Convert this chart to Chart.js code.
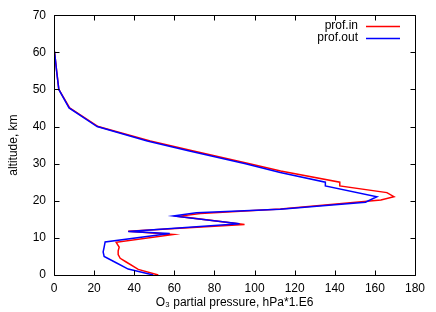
<!DOCTYPE html>
<html>
<head>
<meta charset="utf-8">
<script src="https://cdn.jsdelivr.net/npm/chart.js@4.4.0/dist/chart.umd.min.js"></script>
<style>
  html, body { margin: 0; padding: 0; background: #fff; }
  #wrap { width: 436px; height: 312px; position: relative; }
</style>
</head>
<body>
<div id="wrap"><canvas id="c" width="436" height="312"></canvas></div>
<script>
// prof.in (red): altitude (km) and O3 partial pressure (hPa*1.E6)
const altIn  = [0, 1.5, 2.2, 3.5, 4.5, 5.5, 6.5, 7.5, 8.8, 10.9, 11.8, 13.6, 15.8, 16.6, 17.8, 20.2, 21.1, 22.2, 24, 25, 28, 30, 33.5, 36.1, 40, 45, 50, 55, 60, 65, 70];
const presIn = [52, 42, 40, 36, 33, 32, 32, 32.5, 31, 59.5, 37, 95, 62, 73, 113, 163, 169.5, 166, 142.5, 142.5, 113, 97.5, 69, 48, 22, 7.8, 2.4, 1.3, 0.3, 0, 0];
// prof.out (blue)
const altOut  = [0, 1.6, 3.3, 5, 6.2, 7.5, 8.9, 11.2, 11.7, 13.8, 15.9, 16.8, 17.7, 19.6, 21.1, 24, 25, 27.6, 30, 33.5, 36.1, 40, 45, 50, 55, 60, 65, 70];
const presOut = [49.5, 37, 31, 25, 24.5, 25, 25.5, 57.7, 37, 92.5, 59.5, 71, 112.8, 155.3, 161, 135.3, 135.3, 112.8, 95.5, 67, 46.5, 21.5, 7.5, 2.4, 1.3, 0.3, 0, 0];

const seriesNames = ['prof.in', 'prof.out'];
const seriesColors = ['#ff0000', '#0000ff'];
const xTitle = 'O\u2083 partial pressure, hPa*1.E6';
const yTitle = 'altitude, km';

const FONT = 'Liberation Sans, Arial, Helvetica, sans-serif';
const FS = 12;

function toPoints(xs, ys) { return xs.map((x, i) => ({ x: x, y: ys[i] })); }

const framePlugin = {
  id: 'frame',
  afterDatasetsDraw(chart) {
    const { ctx, chartArea: a, scales } = chart;
    ctx.save();
    ctx.strokeStyle = '#000';
    ctx.lineWidth = 1;
    const L = Math.round(a.left) + 0.5, R = Math.round(a.right) + 0.5;
    const T = Math.round(a.top) + 0.5, B = Math.round(a.bottom) + 0.5;
    ctx.beginPath();
    ctx.rect(L, T, R - L, B - T);
    ctx.stroke();
    const len = 5;
    ctx.beginPath();
    scales.x.ticks.forEach(t => {
      const px = Math.round(scales.x.getPixelForValue(t.value)) + 0.5;
      ctx.moveTo(px, B); ctx.lineTo(px, B - len);
      ctx.moveTo(px, T); ctx.lineTo(px, T + len);
    });
    scales.y.ticks.forEach(t => {
      const py = Math.round(scales.y.getPixelForValue(t.value)) + 0.5;
      ctx.moveTo(L, py); ctx.lineTo(L + len, py);
      ctx.moveTo(R, py); ctx.lineTo(R - len, py);
    });
    ctx.stroke();
    ctx.restore();
  },
  afterDraw(chart) {
    const { ctx } = chart;
    ctx.save();
    ctx.font = FS + 'px ' + FONT;
    ctx.textAlign = 'right';
    ctx.textBaseline = 'middle';
    const textRight = 358, lx0 = 366, lx1 = 400;
    const rows = [26, 38];
    chart.data.datasets.forEach((ds, i) => {
      ctx.fillStyle = '#000';
      ctx.fillText(ds.label, textRight, rows[i]);
      ctx.strokeStyle = ds.borderColor;
      ctx.lineWidth = 1.5;
      ctx.beginPath();
      ctx.moveTo(lx0, rows[i] + 0.5);
      ctx.lineTo(lx1, rows[i] + 0.5);
      ctx.stroke();
    });
    ctx.restore();
  }
};

new Chart(document.getElementById('c'), {
  type: 'scatter',
  data: {
    datasets: [
      { label: seriesNames[0], order: 1, data: toPoints(presIn, altIn), showLine: true, borderColor: seriesColors[0], backgroundColor: seriesColors[0], borderWidth: 1.5, pointRadius: 0, tension: 0, fill: false },
      { label: seriesNames[1], order: 0, data: toPoints(presOut, altOut), showLine: true, borderColor: seriesColors[1], backgroundColor: seriesColors[1], borderWidth: 1.5, pointRadius: 0, tension: 0, fill: false }
    ]
  },
  options: {
    responsive: false,
    animation: false,
    devicePixelRatio: 1,
    layout: { padding: { left: 0, right: 21, top: 15, bottom: 0 } },
    plugins: { legend: { display: false }, tooltip: { enabled: false } },
    scales: {
      x: {
        type: 'linear', min: 0, max: 180,
        grid: { display: false, drawTicks: false },
        border: { display: false },
        ticks: { stepSize: 20, padding: 6, color: '#000', font: { family: FONT, size: FS }, maxRotation: 0 },
        title: { display: true, text: xTitle, color: '#000', font: { family: FONT, size: FS }, padding: { top: 0, bottom: 2 } },
        afterFit(s) { s.height = 37; }
      },
      y: {
        type: 'linear', min: 0, max: 70,
        grid: { display: false, drawTicks: false },
        border: { display: false },
        ticks: { stepSize: 10, padding: 8, color: '#000', font: { family: FONT, size: FS } },
        title: { display: true, text: yTitle, color: '#000', font: { family: FONT, size: FS }, padding: { top: 6, bottom: 0 } },
        afterFit(s) { s.width = 54; }
      }
    }
  },
  plugins: [framePlugin]
});
</script>
</body>
</html>
